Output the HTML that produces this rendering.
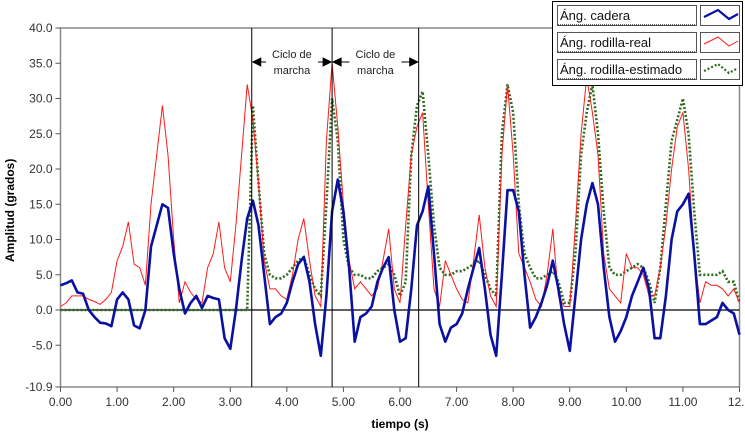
<!DOCTYPE html>
<html><head><meta charset="utf-8"><style>
body{margin:0;background:#fff;font-family:"Liberation Sans",sans-serif}
svg{display:block}
</style></head><body>
<svg id="chart" width="745" height="434" xmlns="http://www.w3.org/2000/svg"></svg>
<script>
const xTicks=[0,1,2,3,4,5,6,7,8,9,10,11,12];
const xTickLabels=["0.00","1.00","2.00","3.00","4.00","5.00","6.00","7.00","8.00","9.00","10.00","11.00","12.0"];
const yTicks=[40,35,30,25,20,15,10,5,0,-5,-10.9];
const yTickLabels=["40.0","35.0","30.0","25.0","20.0","15.0","10.0","5.0","0.0","-5.0","-10.9"];
const timeStep=0.1;
const cadera=[3.5,3.8,4.2,2.5,2.3,0,-1,-1.8,-1.9,-2.3,1.5,2.5,1.5,-2.2,-2.6,0,9,12,15,14.5,8,3,-0.5,1,2,0.3,2,1.7,1.5,-4,-5.5,0,7,13,15.5,12,5,-2,-1,-0.5,1,4,6.5,7.5,4,-2,-6.5,2,14,18.5,14,6,-4.5,-1,-0.5,0.5,4,6,7.5,0,-4.5,-4,3,12,14,17.5,8,-2,-4.5,-2.5,-2,-0.5,3,6,8.8,3,-3.5,-6.5,5,17,17,14,5,-2.5,-1,1,3.5,7,3,-2,-5.8,2,10,15,18,15,6,-1,-4.5,-3,-1,2,4,6,3,-4,-4,2,10,14,15,16.5,8,-2,-2,-1.5,-1,1,0,-0.5,-3.5];
const rodillaReal=[0.5,1,2,2,2,1.5,1.2,0.8,1.5,2.5,7,9,12.5,6.5,6,3.5,15,22,29,22,10,1,4,2.5,1.5,1,6,8,12.5,6,4,12,22,32,27,18,7,3,3,2,1.5,5,10,13,7,2,0.5,24,35,26,15,7,3,4,3,2,3,7,11.5,3,1,12,22,26,28,15,3,0.5,7,5,3,1.5,1,7,13.5,6,2,0.5,22,32,22,8,6,4,1.5,0.5,5,11.5,2,0.5,0.5,12,25,33,28,22,8,3,2,1,8,6,6,5,2,2,6,12,20,26,28,20,8,1,4,3.5,3.5,3,2,3,1];
const rodillaEst=[0,0,0,0,0,0,0,0,0,0,0,0,0,0,0,0,0,0,0,0,0,0,0,0,0,0,0,0,0,0,0,0,0,0,29,18,8,5,4.5,4.5,5,6,7,7.5,5,3,2,15,30,24,10,6,5,5,4.5,4.5,5.5,6,6.5,5,2,4,22,29,31,22,12,6,5,5,5.5,5.5,6,6.5,7,5,3,2,25,32,28,15,8,6,4.5,4.5,5,5.5,4,1,1,8,22,28,32,25,14,6,5,5,5.5,6,6.5,6,4,1,6,15,24,27,30,25,14,5,5,5,5,5.5,4,4,1];
const cycleLines=[3.38,4.8,6.33];

const NS="http://www.w3.org/2000/svg";
const svg=document.getElementById('chart');
const X0=60.5,X1=739.5,YT=28,YB=387;
const xs=t=>X0+t*(X1-X0)/12;
const ys=v=>310-v*7.05;
function mk(tag,attrs,parent){const e=document.createElementNS(NS,tag);for(const k in attrs)e.setAttribute(k,attrs[k]);(parent||svg).appendChild(e);return e;}

const frame=mk('rect',{x:X0,y:YT,width:X1-X0,height:YB-YT,fill:'#fff',stroke:'#888','stroke-width':1.5});



yTicks.forEach((v,i)=>{
  const y=v===-10.9?YB:ys(v);
  const tk=mk('line',{x1:X0-5,x2:X0,y1:y,y2:y,stroke:'#555'});
  
  
  const tx=mk('text',{x:X0-8,y:y+4,'text-anchor':'end','font-size':12,fill:'#333'});
  tx.textContent=yTickLabels[i];
  
  
});
xTicks.forEach((t,i)=>{
  const x=xs(t);
  const tk=mk('line',{x1:x,x2:x,y1:YB,y2:YB+5,stroke:'#555'});
  
  
  const tx=mk('text',{x:x,y:YB+19,'text-anchor':'middle','font-size':12,fill:'#333'});
  tx.textContent=xTickLabels[i];
  
  
});
const zl=mk('line',{x1:X0,x2:X1,y1:ys(0),y2:ys(0),stroke:'#000','stroke-width':1.2});



function path(arr){return arr.map((v,i)=>(i?'L':'M')+xs(i*timeStep).toFixed(1)+','+ys(v).toFixed(1)).join('');}
const est=mk('path',{d:path(rodillaEst),fill:'none',stroke:'#2e6b1e','stroke-width':2.6,'stroke-dasharray':'2 2'});


const real=mk('path',{d:path(rodillaReal),fill:'none',stroke:'#ff1a1a','stroke-width':1});


const cad=mk('path',{d:path(cadera),fill:'none',stroke:'#0a10a0','stroke-width':2.6,'stroke-linejoin':'round'});



cycleLines.forEach(t=>{
  const l=mk('line',{x1:xs(t),x2:xs(t),y1:YT,y2:YB,stroke:'#000','stroke-width':1});
  
  
});
for(let i=0;i<2;i++){
  const a=xs(cycleLines[i])+1,b=xs(cycleLines[i+1])-1,m=(a+b)/2,y=62;
  const ar=mk('path',{d:`M${a},${y}L${m-26},${y}M${m+26},${y}L${b},${y}M${a},${y}l8,-4v8z M${b},${y}l-8,-4v8z`,stroke:'#000',fill:'#000','stroke-width':1});
  
  
  const t1=mk('text',{x:m,y:58,'text-anchor':'middle','font-size':11,fill:'#222'});t1.textContent='Ciclo de';
  
  
  const t2=mk('text',{x:m,y:74,'text-anchor':'middle','font-size':11,fill:'#222'});t2.textContent='marcha';
  
  
}

const yl=mk('text',{x:0,y:0,transform:'translate(14,262) rotate(-90)','font-size':12,'font-weight':'bold',fill:'#000'});
yl.textContent='Amplitud (grados)';


const xl=mk('text',{x:400,y:428,'text-anchor':'middle','font-size':12,'font-weight':'bold',fill:'#000'});
xl.textContent='tiempo (s)';



const lg=mk('g',{});


mk('rect',{x:552.5,y:1.5,width:190,height:84,fill:'#fff',stroke:'#000'},lg);
const names=['Áng. cadera','Áng. rodilla-real','Áng. rodilla-estimado'];
const cols=['#0a10a0','#ff1a1a','#2e6b1e'];
names.forEach((n,i)=>{
  const y=5+i*27;
  const g=mk('g',{},lg);
  
  
  mk('rect',{x:557.5,y:y+0.5,width:139,height:20,fill:'#fff',stroke:'#555'},g);
  mk('line',{x1:558,x2:696,y1:y+20,y2:y+20,stroke:'#333','stroke-dasharray':'1 1','stroke-width':1.5},g);
  mk('rect',{x:700.5,y:y+0.5,width:39,height:20,fill:'#fff',stroke:'#555'},g);
  const t=mk('text',{x:560,y:y+15,'font-size':13,fill:'#111'},g);t.textContent=n;
  mk('path',{d:`M704,${y+12}L718,${y+5}L729,${y+14}L738,${y+9}`,fill:'none',stroke:cols[i],'stroke-width':i===1?1:2.2,'stroke-dasharray':i===2?'2 2':'none'},g);
});
</script>
</body></html>
